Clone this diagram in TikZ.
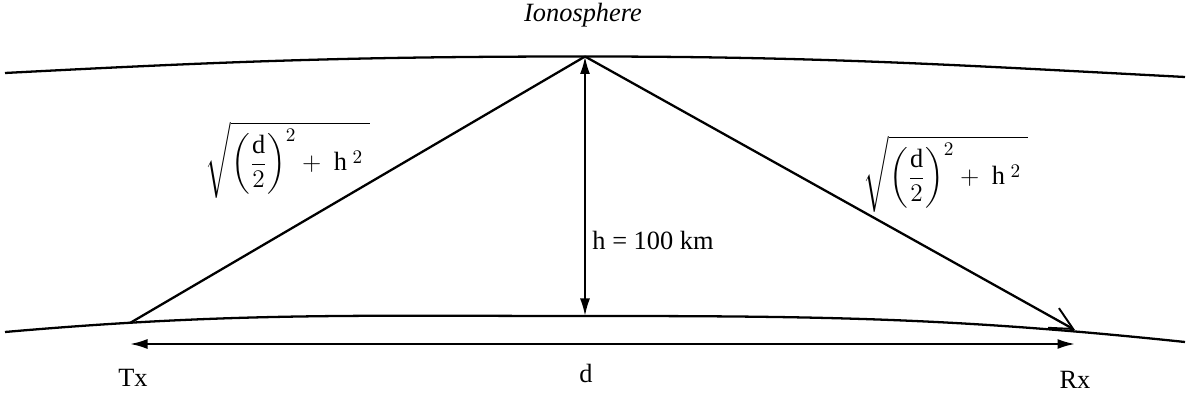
\documentclass[tikz,border=0pt]{standalone}
\usepackage{amsmath}
\usepackage{fontspec}
\setmainfont{Liberation Serif}
\usetikzlibrary{arrows.meta, positioning, calc}

\begin{document}
\begin{tikzpicture}[
    layer/.style={line width=1.3pt},
    ray/.style={line width=1.3pt},
    ray end/.style={line width=1.3pt, -{Straight Barb[length=4.5mm, width=4.5mm, line width=1.1pt]}},
    measure/.style={line width=1.2pt, {Latex[length=3.5mm, width=2mm]}-{Latex[length=3.5mm, width=2mm]}},
    lbl/.style={font=\fontsize{15}{17}\selectfont, inner sep=1pt},
    formula/.style={font=\fontsize{15}{17}\selectfont, inner sep=1pt}
]
    \useasboundingbox (0,0) rectangle (23.78,7.94);

    % points on the two layers
    \coordinate (apex) at (11.70,6.81);
    \coordinate (mid) at (11.70,1.62);
    \coordinate (tx) at (2.60,1.48);
    \coordinate (rx) at (21.50,1.34);
    \coordinate (dl) at (2.60,1.06);
    \coordinate (dr) at (21.50,1.06);

    % ionosphere and ground
    \draw[layer] (0.10,6.48) to[out=3, in=180] (apex) to[out=0, in=177] (23.70,6.40);
    \draw[layer] (0.10,1.30) to[out=5, in=180] (mid) to[out=0, in=174] (23.70,1.10);

    % rays
    \draw[ray] (tx) -- (apex);
    \draw[ray end] (apex) -- (rx);
    \draw[measure] (apex) -- (mid);
    \draw[measure] (dl) -- (dr);

    \node[lbl, font=\fontsize{15}{17}\selectfont\itshape] (iono) at (11.66,7.64) {Ionosphere};
    \node[lbl] (txl) at (2.66,0.38) {Tx};
    \node[lbl] (dlab) at (11.72,0.48) {d};
    \node[lbl] (rxl) at (21.50,0.34) {Rx};
    \node[lbl] (hl) at (13.06,3.14) {h = 100 km};
    \node[formula] (fl) at (5.76,4.74) {$\sqrt{\left(\dfrac{\mathrm{d}}{2}\right)^{2} + \;\mathrm{h}^{\;2}\;}$};
    \node[formula] (fr) at (18.92,4.46) {$\sqrt{\left(\dfrac{\mathrm{d}}{2}\right)^{2} + \;\mathrm{h}^{\;2}\;}$};
\end{tikzpicture}
\end{document}
